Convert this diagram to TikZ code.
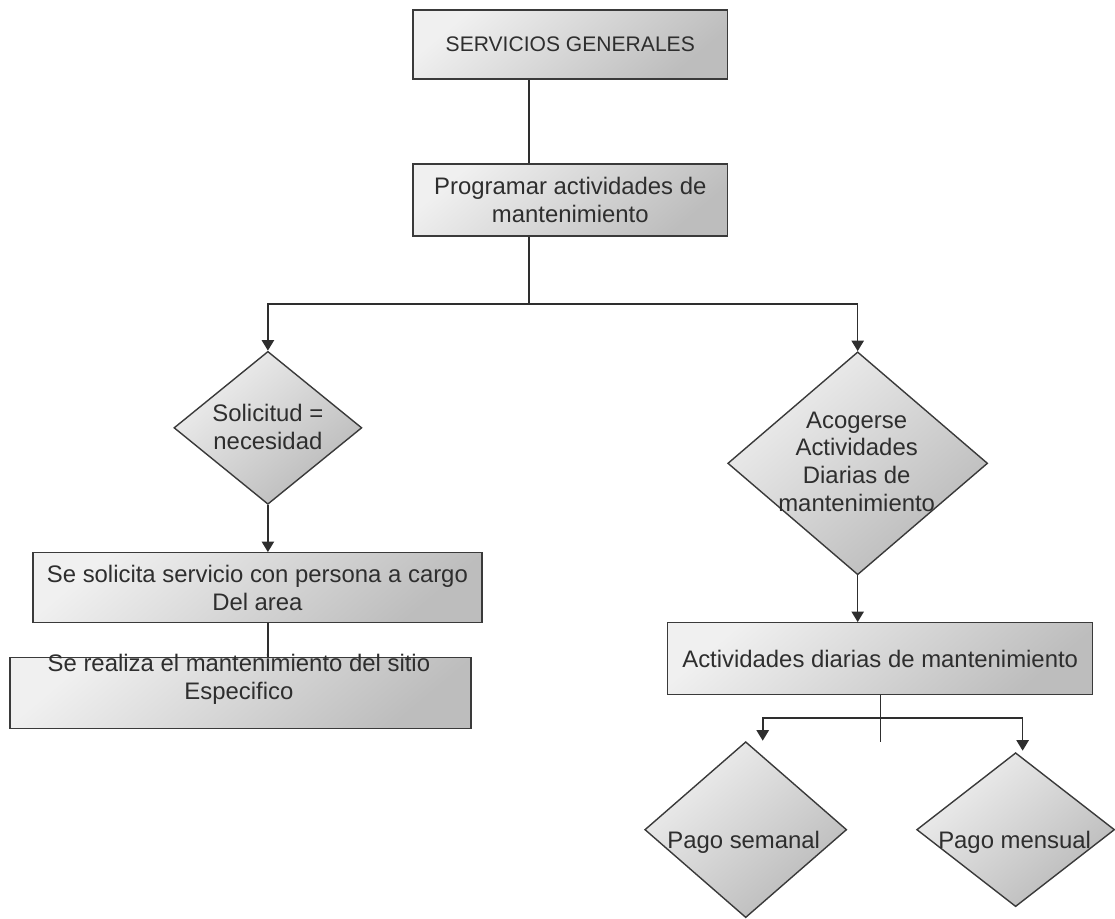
\documentclass[tikz,border=0pt]{standalone}
\usepackage{fontspec}
\setmainfont{Liberation Sans}
\usepackage{tikz}
\usetikzlibrary{arrows.meta,shapes.geometric}
\definecolor{borde}{HTML}{3A3A3A}
\definecolor{tinta}{HTML}{2E2E2E}

\begin{document}
\begin{tikzpicture}[x=1cm,y=1cm,
    caja/.style={rectangle, draw=borde, line width=0.8pt, top color=gray!12,
                 bottom color=gray!52, shading angle=40, inner sep=0pt,
                 align=center, text=tinta, font=\fontsize{13.6}{15.9}\selectfont},
    rombo/.style={diamond, draw=borde, line width=0.8pt, top color=gray!12,
                  bottom color=gray!55, shading angle=40, inner sep=0pt},
    texto/.style={align=center, text=tinta, inner sep=0pt,
                  font=\fontsize{13.6}{15.9}\selectfont},
    linea/.style={draw=tinta, line width=0.9pt},
    flecha/.style={linea, -{Triangle[length=6pt,width=7pt]}}]

  % ================= top: the two boxes in a column =================
  \node[caja, minimum width=6.3cm, minimum height=1.38cm,
        font=\fontsize{12}{15.9}\selectfont] (serv) at (11.41,17.43)
    {SERVICIOS GENERALES};
  \node[caja, minimum width=6.3cm, minimum height=1.44cm] (prog) at (11.41,14.32)
    {Programar actividades de\\mantenimiento};
  \coordinate (split) at (10.58,12.24);

  \draw[linea] (serv.south -| split) -- (prog.north -| split);
  \draw[linea] (prog.south -| split) -- (split);

  % ================= left branch =================
  \node[rombo, minimum width=3.76cm, minimum height=3.06cm] (soli) at (5.36,9.76) {};
  \node[texto] (solitxt) at (5.36,9.77) {Solicitud =\\necesidad};
  \node[caja, minimum width=8.98cm, minimum height=1.40cm] (solicita) at (5.15,6.56)
    {Se solicita servicio con persona a cargo\\Del area};
  \node[caja, minimum width=9.22cm, minimum height=1.42cm] (realiza) at (4.81,4.45) {};
  \node[texto] (realizatxt) at (4.78,4.72)
    {Se realiza el mantenimiento del sitio\\Especifico};

  \draw[flecha] (split) -| (soli.north);
  \draw[flecha] (soli.south) -- (soli.south |- solicita.north);
  \draw[linea] (soli.south |- solicita.south) -- (soli.south |- realiza.north);

  % ================= right branch =================
  \node[rombo, minimum width=5.2cm, minimum height=4.46cm] (acog) at (17.16,9.05) {};
  \node[texto] (acogtxt) at (17.14,9.08)
    {Acogerse\\Actividades\\Diarias de\\mantenimiento};
  \node[caja, minimum width=8.5cm, minimum height=1.44cm] (diarias) at (17.61,5.14)
    {Actividades diarias de mantenimiento};

  \draw[flecha] (split) -| (acog.north);
  \draw[flecha] (acog.south) -- (acog.south |- diarias.north);

  % ---- the two ways to pay ----
  \coordinate (rama) at (17.62,3.96);
  \coordinate (cola) at (17.62,3.48);
  \coordinate (fsem) at (15.26,3.50);
  \coordinate (fmen) at (20.46,3.30);

  \node[rombo, minimum width=4.04cm, minimum height=3.52cm] (sem) at (14.92,1.72) {};
  \node[texto] (semtxt) at (14.88,1.46) {Pago semanal};
  \node[rombo, minimum width=3.96cm, minimum height=3.08cm] (men) at (20.32,1.72) {};
  \node[texto] (mentxt) at (20.30,1.46) {Pago mensual};

  \draw[linea] (diarias.south -| rama) -- (cola);
  \draw[flecha] (rama) -| (fsem);
  \draw[flecha] (rama) -| (fmen);

  \path (0,0) rectangle (22.3,18.32);
\end{tikzpicture}
\end{document}
